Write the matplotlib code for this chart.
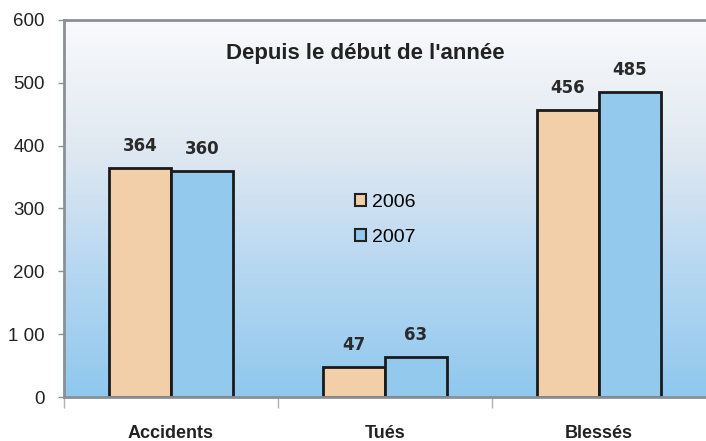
import matplotlib
matplotlib.use("Agg")
import matplotlib.pyplot as plt
import numpy as np
from matplotlib.colors import LinearSegmentedColormap
from matplotlib.patches import Patch

categories = ["Accidents", "Tués", "Blessés"]
series_names = ["2006", "2007"]
values_2006 = [364, 47, 456]
values_2007 = [360, 63, 485]
yticks = [0, 100, 200, 300, 400, 500, 600]
ytick_labels = ["0", "1 00", "200", "300", "400", "500", "600"]
title = "Depuis le début de l'année"

col_2006 = "#f2cfa9"
col_2007 = "#94c9ee"
grey = "#8a9096"

fig = plt.figure(figsize=(7.06, 4.41), dpi=100)
ax = fig.add_axes([64/706, 44/441, 1 - 64/706, 377/441])

# gradient background
cmap = LinearSegmentedColormap.from_list(
    "bg", [(0.0, "#8fc8ee"), (0.35, "#b8d8f1"), (0.65, "#dfe8f1"), (1.0, "#f9fafc")])
grad = np.linspace(0, 1, 256).reshape(-1, 1)
ax.imshow(grad, aspect="auto", cmap=cmap, origin="lower",
          extent=[-0.5, 2.5, 0, 600], zorder=0)

x = np.arange(len(categories))
w = 0.29
b1 = ax.bar(x - w/2, values_2006, w, color=col_2006, edgecolor="#1a1a1a",
            linewidth=2, zorder=2, label=series_names[0])
b2 = ax.bar(x + w/2, values_2007, w, color=col_2007, edgecolor="#1a1a1a",
            linewidth=2, zorder=2, label=series_names[1])

lab_font = dict(family=["DejaVu Sans"], fontsize=12,
                fontweight="bold", color="#2a2a2a")
for bars, vals in ((b1, values_2006), (b2, values_2007)):
    for r, v in zip(bars, vals):
        ax.text(r.get_x() + r.get_width()/2, v + 21, str(v),
                ha="center", va="bottom", **lab_font)

ax.set_xlim(-0.5, 2.5)
ax.set_ylim(0, 600)
ax.set_yticks(yticks)
ax.set_yticklabels(ytick_labels, family=["Liberation Sans", "DejaVu Sans"],
                   fontsize=13.5, color="#222222")
ax.set_xticks(x)
ax.set_xticklabels(categories, family=["Liberation Sans Narrow", "Liberation Sans", "DejaVu Sans"],
                   fontsize=13, fontweight="bold", color="#222222")
ax.tick_params(axis="x", length=0, pad=20)
ax.set_xticks([-0.5, 0.5, 1.5], minor=True)
ax.tick_params(axis="x", which="minor", length=8, color="#b0b0b0", width=1)
ax.tick_params(axis="y", length=4, color=grey, width=1, pad=10)

for s in ("top", "left", "bottom"):
    ax.spines[s].set_color(grey)
    ax.spines[s].set_linewidth(2)
ax.spines["right"].set_visible(False)

ax.text(0.906, 547, title, ha="center", va="center",
        family=["Liberation Sans Narrow", "Liberation Sans", "DejaVu Sans"],
        fontsize=16, fontweight="bold", color="#222222", zorder=3)

handles = [Patch(facecolor=col_2006, edgecolor="#222222", linewidth=1.5),
           Patch(facecolor=col_2007, edgecolor="#222222", linewidth=1.5)]
leg = ax.legend(handles, series_names, loc="center", bbox_to_anchor=(1.0, 282),
                bbox_transform=ax.transData, frameon=False,
                prop=dict(family=["Liberation Sans", "DejaVu Sans"], size=14),
                handlelength=0.55, handleheight=0.55, handletextpad=0.3,
                labelspacing=0.9)

fig.savefig("out.png", dpi=100)
